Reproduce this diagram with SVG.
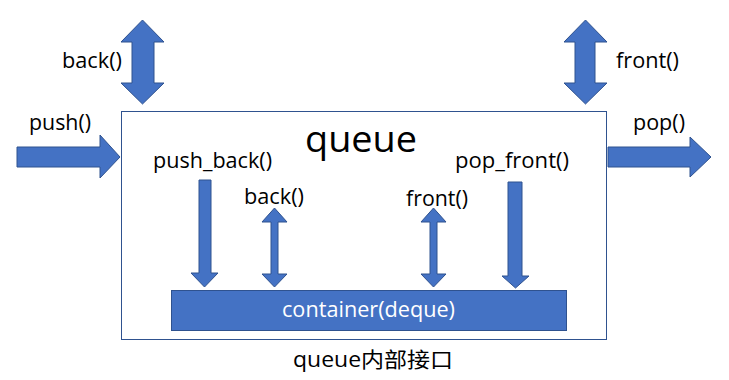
<svg xmlns="http://www.w3.org/2000/svg" width="729" height="380" viewBox="0 0 729 380">
<style>
.arrow{fill:#4472C4;stroke:#2F528F;stroke-width:1}
.lbl{font-family:"Open Sans","Liberation Sans","Noto Sans CJK SC",sans-serif;font-size:21px;fill:#000}
.big{font-family:"Open Sans","Liberation Sans",sans-serif;font-size:37px;fill:#000}
.white{fill:#fff}
</style>
<rect width="729" height="380" fill="#fff"/>
<g id="queue">
<rect x="121.5" y="111.5" width="485" height="228" fill="#fff" stroke="#2F528F" stroke-width="1"/>
<text class="big" x="305" y="152" textLength="112" lengthAdjust="spacingAndGlyphs">queue</text>
</g>
<g id="container">
<rect x="171.5" y="290.5" width="395" height="40" fill="#4472C4" stroke="#2F528F" stroke-width="1"/>
<text class="lbl white" x="282" y="317" textLength="173" lengthAdjust="spacingAndGlyphs">container(deque)</text>
</g>
<g id="connectors">
<polygon class="arrow" points="142.5,20 164,42 154,42 154,83 164,83 142.5,104 121,83 132,83 132,42 121,42"/>
<polygon class="arrow" points="585.5,20 607,42 595,42 595,83 607,83 585.5,104 564,83 575,83 575,42 564,42"/>
<polygon class="arrow" points="17,147 100,147 100,135 120,157 100,178 100,167 17,167"/>
<polygon class="arrow" points="608,147 690,147 690,137 711,157 690,177 690,167 608,167"/>
<polygon class="arrow" points="199,180 211,180 211,273 218,273 204.5,287 191,273 199,273"/>
<polygon class="arrow" points="274.5,208 287,222 278,222 278,274 287,274 274.5,287 262,274 271,274 271,222 262,222"/>
<polygon class="arrow" points="433.5,208 446,222 437,222 437,274 446,274 433.5,287 421,274 430,274 430,222 421,222"/>
<polygon class="arrow" points="508,182 522,182 522,276 529,276 515.5,288 502,276 508,276"/>
</g>
<g id="labels">
<text class="lbl" x="62" y="68" textLength="60" lengthAdjust="spacingAndGlyphs">back()</text>
<text class="lbl" x="616" y="68" textLength="63" lengthAdjust="spacingAndGlyphs">front()</text>
<text class="lbl" x="29" y="130" textLength="62" lengthAdjust="spacingAndGlyphs">push()</text>
<text class="lbl" x="633" y="130" textLength="52" lengthAdjust="spacingAndGlyphs">pop()</text>
<text class="lbl" x="153" y="168" textLength="119" lengthAdjust="spacingAndGlyphs">push_back()</text>
<text class="lbl" x="455" y="168" textLength="114" lengthAdjust="spacingAndGlyphs">pop_front()</text>
<text class="lbl" x="244" y="204" textLength="60" lengthAdjust="spacingAndGlyphs">back()</text>
<text class="lbl" x="406" y="206" textLength="62" lengthAdjust="spacingAndGlyphs">front()</text>
<text class="lbl" x="293" y="367" font-size="22" textLength="160" lengthAdjust="spacingAndGlyphs">queue内部接口</text>
</g>
</svg>
